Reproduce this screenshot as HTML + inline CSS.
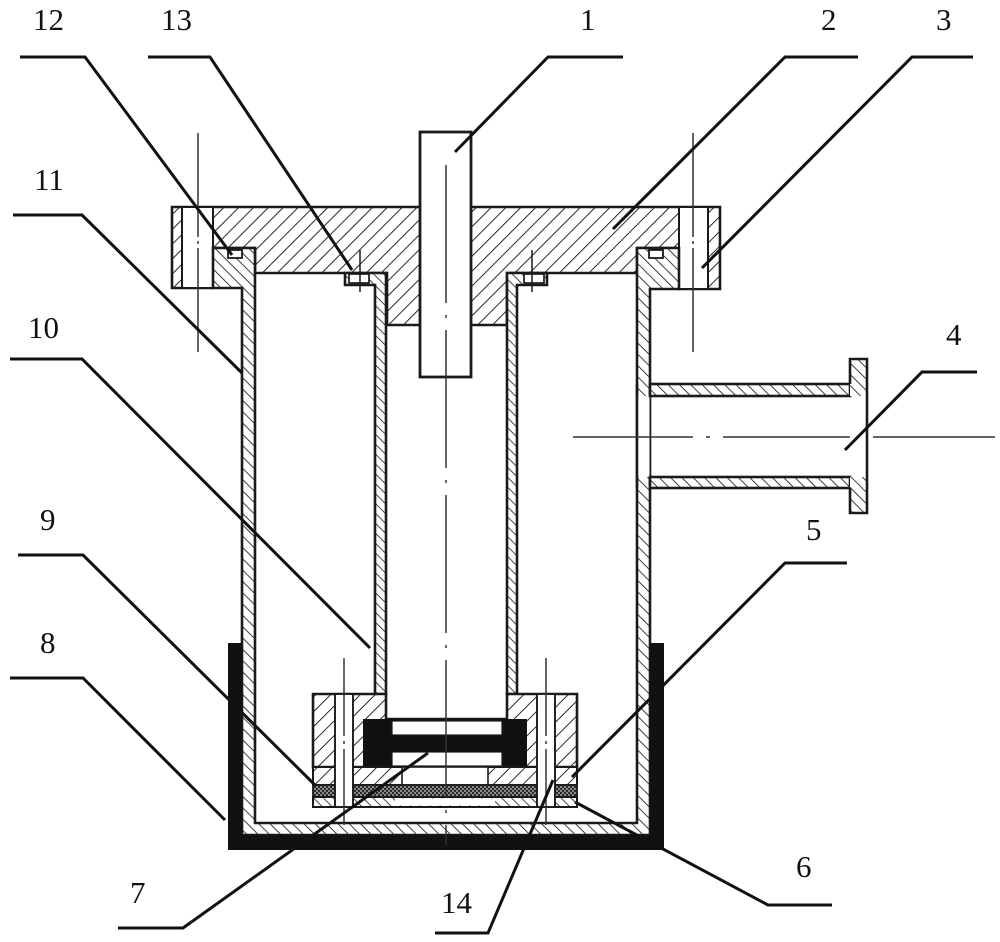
<!DOCTYPE html>
<html>
<head>
<meta charset="utf-8">
<style>
html,body{margin:0;padding:0;background:#fff;}
svg{display:block;}
text{font-family:"Liberation Serif",serif;font-size:31px;fill:#111;}
</style>
</head>
<body>
<svg width="1000" height="942" viewBox="0 0 1000 942" xmlns="http://www.w3.org/2000/svg">
<defs>
  <pattern id="hA" patternUnits="userSpaceOnUse" width="10.5" height="10.5" patternTransform="rotate(45)">
    <rect width="10.5" height="10.5" fill="#fff"/>
    <line x1="0" y1="0" x2="0" y2="10.5" stroke="#2a2a2a" stroke-width="2"/>
  </pattern>
  <pattern id="hB" patternUnits="userSpaceOnUse" width="7" height="7" patternTransform="rotate(-45)">
    <rect width="7" height="7" fill="#fff"/>
    <line x1="0" y1="0" x2="0" y2="7" stroke="#2a2a2a" stroke-width="1.7"/>
  </pattern>
  <pattern id="hC" patternUnits="userSpaceOnUse" width="8" height="8" patternTransform="rotate(-45)">
    <rect width="8" height="8" fill="#fff"/>
    <line x1="0" y1="0" x2="0" y2="8" stroke="#2a2a2a" stroke-width="1.8"/>
  </pattern>
  <pattern id="xh" patternUnits="userSpaceOnUse" width="4" height="4">
    <rect width="4" height="4" fill="#8a8a8a"/>
    <rect x="0" y="0" width="2" height="2" fill="#2a2a2a"/>
    <rect x="2" y="2" width="2" height="2" fill="#2a2a2a"/>
  </pattern>
</defs>
<rect width="1000" height="942" fill="#fff"/>

<!-- Top flange (2) -->
<path d="M172,207 H720 V289 H679 V248 H637 V273 H507 V325 H387 V273 H255 V248 H213 V288 H172 Z" fill="url(#hA)" stroke="#1a1a1a" stroke-width="2.6"/>
<!-- ear bolt holes -->
<rect x="182" y="207" width="31" height="81" fill="#fff" stroke="#1a1a1a" stroke-width="2"/>
<rect x="679" y="207" width="29" height="82" fill="#fff" stroke="#1a1a1a" stroke-width="2"/>

<!-- Outer vessel (11) -->
<path d="M213,248 H255 V823 H637 V248 H679 V289 H650 V835 H242 V288 H213 Z" fill="url(#hC)" stroke="#1a1a1a" stroke-width="2.6"/>
<!-- seals 12 -->
<rect x="228" y="250" width="14" height="8" fill="#fff" stroke="#1a1a1a" stroke-width="1.8"/>
<rect x="649" y="250" width="14" height="8" fill="#fff" stroke="#1a1a1a" stroke-width="1.8"/>

<!-- Inner tube (10) -->
<path d="M345,273 H386 V694 H375 V285 H345 Z" fill="url(#hB)" stroke="#1a1a1a" stroke-width="2.6"/>
<path d="M547,273 H507 V694 H517 V285 H547 Z" fill="url(#hB)" stroke="#1a1a1a" stroke-width="2.6"/>
<!-- seals 13 -->
<rect x="349" y="274" width="20" height="9" fill="#fff" stroke="#1a1a1a" stroke-width="1.7"/>
<rect x="524" y="274" width="20" height="9" fill="#fff" stroke="#1a1a1a" stroke-width="1.7"/>
<line x1="360" y1="250" x2="360" y2="292" stroke="#1a1a1a" stroke-width="1.5"/>
<line x1="532" y1="250" x2="532" y2="292" stroke="#1a1a1a" stroke-width="1.5"/>

<!-- Shaft (1) -->
<rect x="420" y="132" width="51" height="245" fill="#fff" stroke="#1a1a1a" stroke-width="2.8"/>

<!-- Side pipe (4) -->
<rect x="638" y="396" width="11.5" height="81" fill="#fff"/>
<line x1="637" y1="384" x2="637" y2="488" stroke="#1a1a1a" stroke-width="2.6"/>
<rect x="650" y="384" width="200" height="12" fill="url(#hC)" stroke="#1a1a1a" stroke-width="2.6"/>
<rect x="650" y="477" width="200" height="11" fill="url(#hC)" stroke="#1a1a1a" stroke-width="2.6"/>
<rect x="850" y="359" width="17" height="37" fill="url(#hC)"/>
<rect x="850" y="477" width="17" height="36" fill="url(#hC)"/>
<path d="M850,384 V359 H867 V513 H850 V488" fill="none" stroke="#1a1a1a" stroke-width="2.6"/>

<!-- Lower flange block of inner tube -->
<path d="M313,694 H386 V719 H507 V694 H577 V767 H313 Z" fill="url(#hA)" stroke="#1a1a1a" stroke-width="2.6"/>
<!-- black seal H (7) -->
<rect x="363" y="719" width="164" height="48" fill="#111"/>
<rect x="392" y="721" width="110" height="14" fill="#fff" stroke="#1a1a1a" stroke-width="1.2"/>
<rect x="392" y="752" width="110" height="14" fill="#fff" stroke="#1a1a1a" stroke-width="1.2"/>
<!-- layer 9 -->
<rect x="313" y="767" width="264" height="18" fill="url(#hA)" stroke="#1a1a1a" stroke-width="2"/>
<rect x="402" y="767" width="86" height="18" fill="#fff" stroke="#1a1a1a" stroke-width="1.6"/>
<!-- crosshatch layer -->
<rect x="313" y="785" width="264" height="12" fill="url(#xh)" stroke="#1a1a1a" stroke-width="1.8"/>
<!-- bottom thin plate -->
<rect x="313" y="797" width="264" height="10" fill="url(#hB)" stroke="#1a1a1a" stroke-width="2"/>
<rect x="395" y="798.5" width="100" height="7" fill="#fff"/>
<!-- lower bolt holes -->
<rect x="335" y="694" width="18" height="113" fill="#fff" stroke="#1a1a1a" stroke-width="1.9"/>
<rect x="537" y="694" width="18" height="113" fill="#fff" stroke="#1a1a1a" stroke-width="1.9"/>

<!-- Black jacket (8) -->
<path d="M228,643 H242 V835 H650 V643 H664 V850 H228 Z" fill="#111"/>

<!-- Center lines -->
<g stroke="#333" stroke-width="1.5" fill="none">
  <line x1="446" y1="165" x2="446" y2="845" stroke-dasharray="138 12 3 12"/>
  <line x1="198" y1="133" x2="198" y2="355" stroke-dasharray="104 4 3 4"/>
  <line x1="693" y1="133" x2="693" y2="353" stroke-dasharray="104 4 3 4"/>
  <line x1="344" y1="658" x2="344" y2="825" stroke-dasharray="78 5 3 5"/>
  <line x1="546" y1="658" x2="546" y2="825" stroke-dasharray="78 5 3 5"/>
  <line x1="573" y1="437" x2="693" y2="437"/>
  <line x1="706" y1="437" x2="710" y2="437"/>
  <line x1="723" y1="437" x2="850" y2="437"/>
  <line x1="873" y1="437" x2="995" y2="437"/>
</g>

<!-- Leader lines -->
<g stroke="#111" stroke-width="3" fill="none" stroke-linejoin="miter">
  <path d="M20,57 H85 L232,255"/>
  <path d="M148,57 H210 L352,270"/>
  <path d="M623,57 H548 L455,152"/>
  <path d="M858,57 H785 L613,229"/>
  <path d="M973,57 H912 L702,268"/>
  <path d="M977,372 H922 L845,450"/>
  <path d="M13,215 H82 L242,373"/>
  <path d="M10,359 H82 L370,648"/>
  <path d="M18,555 H83 L315,785"/>
  <path d="M10,678 H83 L225,820"/>
  <path d="M118,928 H183 L428,753"/>
  <path d="M435,933 H488 L553,780"/>
  <path d="M847,563 H785 L572,777"/>
  <path d="M832,905 H768 L575,802"/>
</g>

<!-- Labels -->
<text x="33" y="30">12</text>
<text x="161" y="30">13</text>
<text x="580" y="30">1</text>
<text x="821" y="30">2</text>
<text x="936" y="30">3</text>
<text x="34" y="190">11</text>
<text x="28" y="338">10</text>
<text x="946" y="345">4</text>
<text x="40" y="530">9</text>
<text x="806" y="540">5</text>
<text x="40" y="653">8</text>
<text x="796" y="877">6</text>
<text x="130" y="903">7</text>
<text x="441" y="913">14</text>
</svg>
</body>
</html>
